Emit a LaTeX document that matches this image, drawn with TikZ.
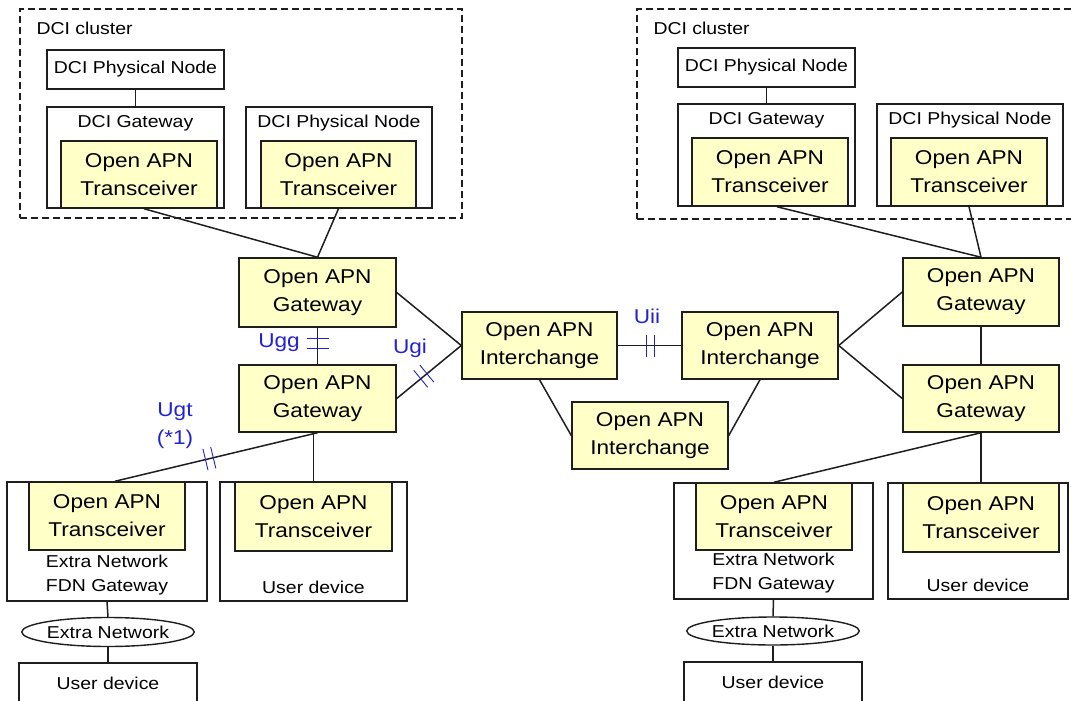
\documentclass[tikz,border=0pt]{standalone}
\usepackage{fontspec}
\setmainfont{Liberation Sans}[FakeStretch=1.13]
\usetikzlibrary{shapes.geometric,calc,decorations.markings}
\definecolor{apnfill}{RGB}{255,255,200}
\definecolor{ifblue}{RGB}{34,34,210}
\definecolor{edge}{RGB}{30,30,30}

\tikzset{
  big/.style={font=\fontsize{20}{28}\selectfont, align=center},
  small/.style={font=\fontsize{17.2}{24}\selectfont, align=center},
  wh/.style 2 args={minimum width=#1pt, minimum height=#2pt},
  apn/.style={draw=edge, line width=1.5pt, fill=apnfill, inner sep=0pt, big},
  host/.style={draw=edge, line width=1.4pt, fill=white, inner sep=0pt},
  cluster/.style={draw=edge, line width=1.4pt, dash pattern=on 7pt off 4pt, inner sep=0pt},
  net/.style={ellipse, draw=edge, line width=1.4pt, fill=white, inner sep=0pt, small},
  link/.style={draw=edge, line width=1.5pt},
  iflabel/.style={big, text=ifblue},
  cut/.style 2 args={postaction={decorate, decoration={markings,
      mark=at position #1 with {\draw[ifblue, line width=0.9pt]
        (-#2,-11) -- (-#2,11) (#2,-11) -- (#2,11);}}}},
}

\begin{document}
\begin{tikzpicture}[x=1pt, y=-1pt]
\useasboundingbox (0,0) rectangle (1071,701);

% ---------- DCI clusters ----------
\node[cluster, wh={442}{209}] (LC) at (241,113.5) {};
\node[small, anchor=west] (LCt) at (33,28) {DCI cluster};
\node[cluster, wh={453}{210}] (RC) at (863.5,114) {};
\node[small, anchor=west] (RCt) at (650,28) {DCI cluster};

% left cluster
\node[host, wh={177}{39}, small] (LPN1) at (135.5,69.5) {DCI Physical Node};
\node[host, wh={177}{101}] (LDG) at (135.5,157.5) {};
\node[small] (LDGt) at (135.5,123) {DCI Gateway};
\node[apn, wh={156}{67}] (LT1) at (139,174.5) {Open APN\\Transceiver};
\node[host, wh={186}{101}] (LPN2) at (339,157.5) {};
\node[small] (LPN2t) at (339,123) {DCI Physical Node};
\node[apn, wh={155}{67}] (LT2) at (338.5,174.5) {Open APN\\Transceiver};

% right cluster
\node[host, wh={177}{39}, small] (RPN1) at (766.5,67.5) {DCI Physical Node};
\node[host, wh={177}{102}] (RDG) at (766.5,155) {};
\node[small] (RDGt) at (766.5,120) {DCI Gateway};
\node[apn, wh={156}{68}] (RT1) at (770,172) {Open APN\\Transceiver};
\node[host, wh={186}{102}] (RPN2) at (970,155) {};
\node[small] (RPN2t) at (970,120) {DCI Physical Node};
\node[apn, wh={156}{68}] (RT2) at (969,172) {Open APN\\Transceiver};

% ---------- gateways and interchanges ----------
\node[apn, wh={157}{69}] (LG1) at (317.5,292.5) {Open APN\\Gateway};
\node[apn, wh={157}{67}] (LG2) at (317.5,398.5) {Open APN\\Gateway};
\node[apn, wh={155}{67}] (I1) at (539.5,345.5) {Open APN\\Interchange};
\node[apn, wh={156}{67}] (I2) at (760,345.5) {Open APN\\Interchange};
\node[apn, wh={156}{67}] (I3) at (650,435.5) {Open APN\\Interchange};
\node[apn, wh={156}{68}] (RG1) at (981,292) {Open APN\\Gateway};
\node[apn, wh={156}{67}] (RG2) at (981,398.5) {Open APN\\Gateway};

% ---------- bottom left ----------
\node[host, wh={200}{119}] (LFDN) at (107,541.5) {};
\node[small] (LFDNt) at (107,575) {Extra Network\\FDN Gateway};
\node[apn, wh={156}{68}] (LT3) at (107,516) {Open APN\\Transceiver};
\node[host, wh={187}{119}] (LUD) at (313.5,541.5) {};
\node[small] (LUDt) at (313.5,587) {User device};
\node[apn, wh={157}{69}] (LT4) at (313.5,516.5) {Open APN\\Transceiver};
\node[net, wh={170}{29}] (LEN) at (108,632) {Extra Network};
\node[host, wh={178}{62}] (LUD2) at (108,694) {};
\node[small] (LUD2t) at (108,683) {User device};

% ---------- bottom right ----------
\node[host, wh={199}{116}] (RFDN) at (773.5,541) {};
\node[small] (RFDNt) at (773.5,573.5) {Extra Network\\FDN Gateway};
\node[apn, wh={156}{67}] (RT3) at (774,516.5) {Open APN\\Transceiver};
\node[host, wh={180}{116}] (RUD) at (978,541) {};
\node[small] (RUDt) at (978,585) {User device};
\node[apn, wh={156}{69}] (RT4) at (981,517.5) {Open APN\\Transceiver};
\node[net, wh={170}{28}] (REN) at (773,631) {Extra Network};
\node[host, wh={178}{63}] (RUD2) at (773,693.5) {};
\node[small] (RUD2t) at (773,682) {User device};

% ---------- connectors ----------
\draw[link] (LPN1.south) -- (LDG.north);
\draw[link] (RPN1.south) -- (RDG.north);
\draw[link] ($(LT1.south)+(5,0)$) -- (LG1.north);
\draw[link] (LT2.south) -- (LG1.north);
\draw[link] ($(RT1.south)+(7,0)$) -- (RG1.north);
\draw[link] (RT2.south) -- (RG1.north);

\draw[link, cut={0.42}{5}] (LG1.south) -- (LG2.north);
\draw[link] (LG1.east) -- (I1.west);
\draw[link, cut={0.42}{4}] (LG2.east) -- (I1.west);
\draw[link, cut={0.52}{4}] (I1.east) -- (I2.west);
\draw[link] (I1.south) -- (I3.west);
\draw[link] (I2.south) -- (I3.east);
\draw[link] (I2.east) -- (RG1.west);
\draw[link] (I2.east) -- (RG2.west);
\draw[link] (RG1.south) -- (RG2.north);

\draw[link, cut={0.534}{4}] (LG2.south) -- ($(LT3.north)+(8,0)$);
\draw[link] (LT4.north |- LG2.south) -- (LT4.north);
\draw[link] (LFDN.south) -- (LEN.north);
\draw[link] (LEN.south) -- (LUD2.north);

\draw[link] (RG2.south) -- (RT3.north);
\draw[link] (RG2.south) -- (RT4.north);
\draw[link] (RFDN.south) -- (REN.north);
\draw[link] (REN.south) -- (RUD2.north);

% ---------- interface labels ----------
\node[iflabel] (Ugg) at (279,343) {Ugg};
\node[iflabel] (Ugi) at (410,348) {Ugi};
\node[iflabel] (Uii) at (647,316) {Uii};
\node[iflabel] (Ugt) at (175,426) {Ugt\\(*1)};
\end{tikzpicture}
\end{document}
